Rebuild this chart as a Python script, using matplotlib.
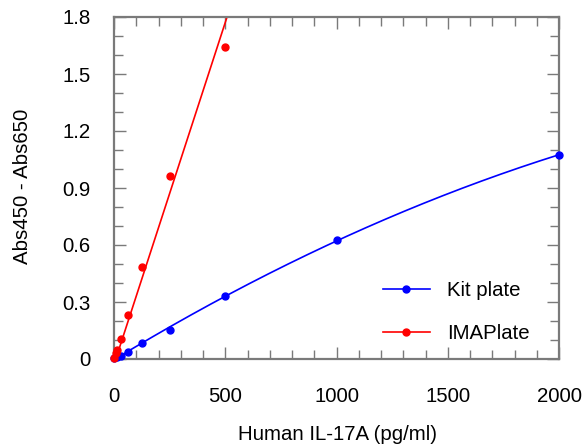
import numpy as np
import matplotlib
matplotlib.use("Agg")
import matplotlib.pyplot as plt
from matplotlib.ticker import MultipleLocator, FixedLocator

plt.rcParams['font.family'] = ['Liberation Sans', 'DejaVu Sans']

# Data
kit_x = [0, 15.6, 31.25, 62.5, 125, 250, 500, 1000, 2000]
kit_y = [0.005, 0.01, 0.017, 0.038, 0.083, 0.155, 0.332, 0.626, 1.074]
ima_x = [0, 7.8, 15.6, 31.25, 62.5, 125, 250, 500]
ima_y = [0.005, 0.03, 0.05, 0.103, 0.232, 0.484, 0.963, 1.64]
# linear fit of IMAPlate: y = slope * x + intercept
ima_fit_slope = 0.0036
ima_fit_intercept = -0.029
x_ticks = [0, 500, 1000, 1500, 2000]
y_ticks = [0, 0.3, 0.6, 0.9, 1.2, 1.5, 1.8]
y_tick_labels = ['0', '0.3', '0.6', '0.9', '1.2', '1.5', '1.8']
series_names = ['Kit plate', 'IMAPlate']
x_label = 'Human IL-17A (pg/ml)'
y_label = 'Abs450 - Abs650'

W, H = 585, 446
FS = 14.7
fig = plt.figure(figsize=(W / 100, H / 100), dpi=100)
ax = fig.add_axes([114 / W, 1 - 359 / H, (559 - 114) / W, (359 - 17) / H])

blue = '#0000ff'
red = '#ff0000'

# Fitted curves
kc = np.polyfit(kit_x, kit_y, 2)
kx = np.linspace(0, max(kit_x), 300)
ix = np.linspace(0, 600, 50)

ax.plot(kx, np.polyval(kc, kx), color=blue, lw=1.2, zorder=2)
ax.plot(ix, ima_fit_slope * ix + ima_fit_intercept, color=red, lw=1.2, zorder=2)
ax.plot(kit_x, kit_y, 'o', color=blue, ms=5, zorder=3, clip_on=False)
ax.plot(ima_x, ima_y, 'o', color=red, ms=5, zorder=3, clip_on=False)

# legend proxies
h1, = ax.plot([], [], '-o', color=blue, lw=1.2, ms=5)
h2, = ax.plot([], [], '-o', color=red, lw=1.2, ms=5)
leg = fig.legend([h1, h2], series_names, loc='center left',
                 bbox_to_anchor=(383 / W, 1 - 312 / H), frameon=False,
                 fontsize=FS, borderpad=0, borderaxespad=0,
                 handlelength=2.3, handletextpad=0.83, labelspacing=1.19,
                 markerscale=1)

ax.set_xlim(0, 2000)
ax.set_ylim(0, 1.8)
ax.xaxis.set_major_locator(FixedLocator(x_ticks))
ax.yaxis.set_major_locator(FixedLocator(y_ticks))
ax.set_yticklabels(y_tick_labels)
ax.xaxis.set_minor_locator(MultipleLocator(100))
ax.yaxis.set_minor_locator(MultipleLocator(0.1))

gray = '#7a7a7a'
for s in ax.spines.values():
    s.set_color(gray)
    s.set_linewidth(1.6)
ax.tick_params(which='both', direction='in', top=True, right=True,
               color=gray, width=1.0, labelsize=FS, labelcolor='black')
ax.tick_params(which='major', length=8.5)
ax.tick_params(which='minor', length=6.5)
ax.tick_params(axis='y', which='major', pad=17)
ax.tick_params(axis='x', which='major', pad=20.5)

fig.text(337 / W, 1 - 435 / H, x_label, ha='center', va='center', fontsize=FS)
fig.text(23 / W, 1 - 186 / H, y_label, ha='center', va='center', rotation=90, fontsize=FS)

fig.savefig('out.png', dpi=100)
